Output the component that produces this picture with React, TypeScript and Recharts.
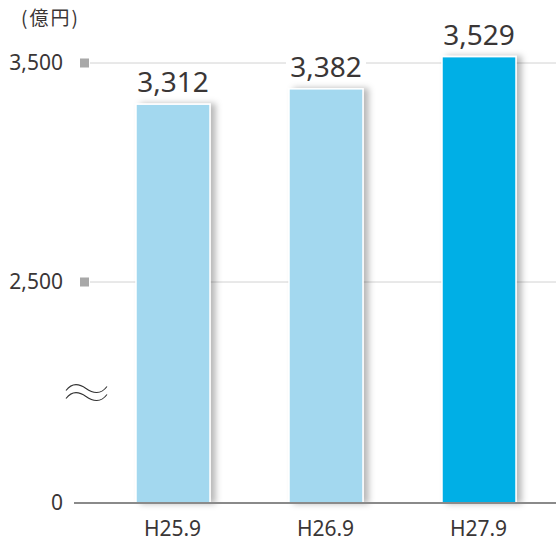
import React from "react";
import { BarChart, Bar, XAxis, YAxis, CartesianGrid, Cell, LabelList } from "recharts";

// データ
const categories = ["H25.9", "H26.9", "H27.9"];
const values = [3312, 3382, 3529];
const barColors = ["#a3d8ef", "#a3d8ef", "#00afe6"];
const tickValues = [0, 2500, 3500];
const tickLabels = ["0", "2,500", "3,500"];
const gridValues = [2500, 3500];
const breakValue = 1250; // 省略記号（≈）の位置

// 0〜2,500 と 2,500〜3,500 をほぼ同じ高さで描く（省略目盛）
const LOW = 221;
const HIGH = 219;
const scaled = (v: number) => (v <= 2500 ? (v * LOW) / 2500 : LOW + ((v - 2500) * HIGH) / 1000);

const data = categories.map((name, i) => ({ name, value: scaled(values[i]), raw: values[i] }));
const yTicks = [...tickValues.map(scaled), scaled(breakValue)];

const TEXT = "#3a3636";
const FONT = "'Noto Sans', 'Open Sans', sans-serif";

const YTick = ({ y, payload }: any) => {
  const idx = tickValues.map(scaled).indexOf(payload.value);
  if (idx < 0) {
    // 波線
    const w = (yy: number) => `M66,${yy + 2} C72,${yy - 6} 79,${yy - 5} 86,${yy} S101,${yy + 6} 107,${yy - 2}`;
    return (
      <g fill="none" stroke="#333" strokeWidth={1.1}>
        <path d={w(y - 4)} />
        <path d={w(y + 4)} />
      </g>
    );
  }
  return (
    <g>
      <text x={63} y={y} dy="0.35em" textAnchor="end" fontSize={21} fill={TEXT} fontFamily={FONT}>
        {tickLabels[idx]}
      </text>
      {idx === 0 ? (
        <line x1={74} x2={91} y1={y} y2={y} stroke="#8a8a8a" strokeWidth={2} />
      ) : (
        <rect x={80} y={y - 4.5} width={9} height={9} fill="#a8a8a8" />
      )}
    </g>
  );
};

const ValueLabel = ({ x, y, width, index }: any) => {
  const cx = x + width / 2;
  const base = y - 12;
  return (
    <g>
      <rect x={cx - 40} y={base - 24} width={80} height={27} fill="#fff" />
      <text x={cx} y={base} textAnchor="middle" fontSize={28} fill={TEXT} fontFamily={FONT}>
        {values[index].toLocaleString("en-US")}
      </text>
    </g>
  );
};

const BarShape = (props: any) => {
  const { x, y, width, height, fill } = props;
  return (
    <rect x={x} y={y} width={width} height={height} fill={fill} stroke="#fff" strokeWidth={1.5} filter="url(#barShadow)" />
  );
};

export default function App() {
  return (
    <div style={{ position: "absolute", left: 0, top: 0, width: 556, height: 543, background: "#fff" }}>
      <div
        style={{
          position: "absolute",
          left: 21,
          top: 6,
          fontSize: 19,
          lineHeight: "22px",
          letterSpacing: 2,
          color: TEXT,
          fontFamily: "'Noto Sans CJK JP', sans-serif",
        }}
      >
        (億円)
      </div>
      <BarChart
        width={556}
        height={543}
        data={data}
        margin={{ top: 40, right: 0, bottom: 10, left: 0 }}
        barSize={74}
      >
        <defs>
          <filter id="barShadow" x="-20%" y="-10%" width="150%" height="120%">
            <feDropShadow dx={5} dy={0} stdDeviation={3} floodColor="#000" floodOpacity={0.28} />
          </filter>
        </defs>
        <CartesianGrid vertical={false} stroke="#d2d2d2" horizontalValues={gridValues.map(scaled)} />
        <XAxis
          dataKey="name"
          height={30}
          axisLine={{ stroke: "#8a8a8a", strokeWidth: 2 }}
          tickLine={false}
          tickMargin={12}
          padding={{ left: 6, right: 1 }}
          tick={{ fill: TEXT, fontSize: 21, fontFamily: FONT }}
        />
        <YAxis
          width={90}
          domain={[0, 463]}
          ticks={yTicks}
          interval={0}
          axisLine={false}
          tickLine={false}
          tick={<YTick />}
        />
        <Bar dataKey="value" shape={<BarShape />} isAnimationActive={false}>
          {data.map((d, i) => (
            <Cell key={d.name} fill={barColors[i]} />
          ))}
          <LabelList dataKey="value" content={<ValueLabel />} />
        </Bar>
      </BarChart>
    </div>
  );
}
